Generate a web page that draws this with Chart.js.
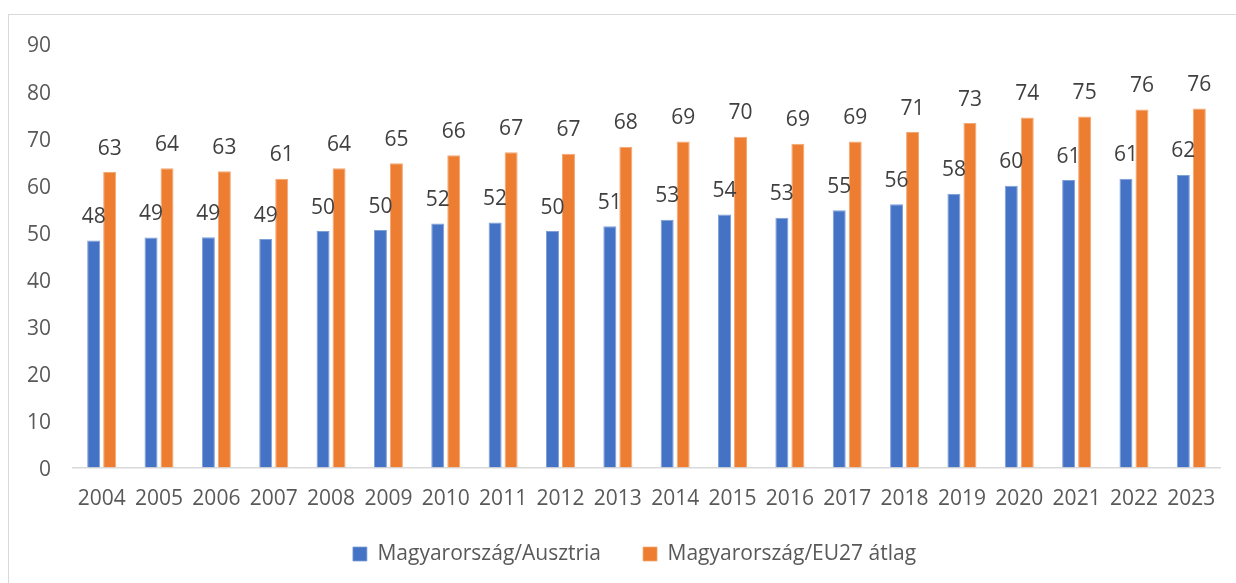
<!DOCTYPE html>
<html>
<head>
<meta charset="utf-8">
<script src="https://cdn.jsdelivr.net/npm/chart.js@4"></script>
<style>
  html, body { margin: 0; padding: 0; background: #fff; overflow: hidden; width: 1236px; height: 583px; }
  #frame { position: absolute; left: 8px; top: 14px; width: 1240px; height: 600px;
           border-left: 1.3px solid #d9d9d9; border-top: 1.3px solid #d9d9d9; }
  #wrap { position: absolute; left: 9px; top: 15px; width: 1227px; height: 568px; }
  canvas { display: block; }
</style>
</head>
<body>
<div id="frame"></div>
<div id="wrap"><canvas id="c" width="1227" height="568"></canvas></div>
<script>
const categories = ['2004','2005','2006','2007','2008','2009','2010','2011','2012','2013',
                    '2014','2015','2016','2017','2018','2019','2020','2021','2022','2023'];
const seriesNames = ['Magyarország/Ausztria', 'Magyarország/EU27 átlag'];
const huAt = [48.2, 48.8, 48.9, 48.5, 50.2, 50.4, 51.8, 52.0, 50.2, 51.2,
              52.6, 53.7, 53.0, 54.6, 55.9, 58.1, 59.8, 61.0, 61.3, 62.1];
const huEu = [62.7, 63.5, 62.9, 61.3, 63.5, 64.6, 66.3, 66.9, 66.6, 68.1,
              69.2, 70.2, 68.7, 69.2, 71.2, 73.1, 74.3, 74.5, 76.0, 76.2];
const yTicks = [0, 10, 20, 30, 40, 50, 60, 70, 80, 90];

const FONT = "'Open Sans', 'Noto Sans', sans-serif";
const FS = 21;

const dataLabels = {
  id: 'dataLabels',
  afterDatasetsDraw(chart) {
    const ctx = chart.ctx;
    ctx.save();
    ctx.font = FS + 'px ' + FONT;
    ctx.fillStyle = '#404040';
    ctx.textAlign = 'center';
    ctx.textBaseline = 'alphabetic';
    chart.data.datasets.forEach((ds, di) => {
      const meta = chart.getDatasetMeta(di);
      meta.data.forEach((bar, i) => {
        ctx.fillText(String(Math.round(ds.data[i])), bar.x, bar.y - 17.5);
      });
    });
    ctx.restore();
  }
};

const legendShift = {
  id: 'legendShift',
  afterLayout(chart) {
    const lg = chart.legend;
    if (lg) {
      lg.left += 20; lg.right += 20;
      lg.top -= 10;
    }
  }
};

new Chart(document.getElementById('c'), {
  type: 'bar',
  data: {
    labels: categories,
    datasets: [
      { label: seriesNames[0], data: huAt, backgroundColor: '#4472C4',
        borderColor: '#7f9fd8', borderWidth: {left:1,right:1,top:1,bottom:0} },
      { label: seriesNames[1], data: huEu, backgroundColor: '#ED7D31',
        borderColor: '#f3a873', borderWidth: {left:1,right:1,top:1,bottom:0} }
    ]
  },
  options: {
    responsive: false,
    animation: false,
    devicePixelRatio: 1,
    layout: { padding: { left: 0, right: 16, top: 28.5, bottom: 11.5 } },
    datasets: { bar: { categoryPercentage: 0.558, barPercentage: 0.8125 } },
    scales: {
      x: {
        grid: { display: false, drawTicks: false },
        border: { display: true, color: '#d9d9d9', width: 1.5 },
        ticks: { color: '#595959', font: { family: FONT, size: FS }, padding: 18.6, maxRotation: 0, autoSkip: false },
        afterFit(scale) { scale.height = 44; scale.paddingLeft = 0; scale.paddingRight = 0; }
      },
      y: {
        min: 0, max: 90,
        grid: { display: false, drawTicks: false },
        border: { display: false },
        afterBuildTicks(scale) { scale.ticks = yTicks.map(v => ({ value: v })); },
        ticks: { color: '#595959', font: { family: FONT, size: FS }, padding: 22, labelOffset: 3 },
        afterFit(scale) { scale.width = 64; scale.paddingTop = 0; scale.paddingBottom = 0; }
      }
    },
    plugins: {
      legend: {
        position: 'bottom',
        maxHeight: 60,
        labels: { color: '#595959', font: { family: FONT, size: FS }, boxWidth: 14, boxHeight: 14, padding: 42 }
      },
      tooltip: { enabled: false }
    }
  },
  plugins: [dataLabels, legendShift]
});
</script>
</body>
</html>
